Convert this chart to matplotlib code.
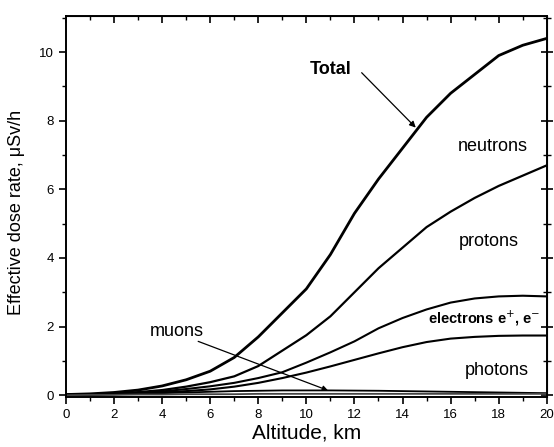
import matplotlib.pyplot as plt
from matplotlib.ticker import MultipleLocator

plt.rcParams['font.family'] = ['Liberation Sans', 'DejaVu Sans']

# altitude grid, km
alt = [0, 1, 2, 3, 4, 5, 6, 7, 8, 9, 10, 11, 12, 13, 14, 15, 16, 17, 18, 19, 20]

# effective dose rate, uSv/h
total = [0.02, 0.04, 0.08, 0.15, 0.27, 0.45, 0.70, 1.10, 1.70, 2.40, 3.10,
         4.10, 5.30, 6.30, 7.20, 8.10, 8.80, 9.35, 9.90, 10.20, 10.40]
neutrons = [0.01, 0.02, 0.05, 0.09, 0.15, 0.25, 0.38, 0.55, 0.85, 1.30, 1.75,
            2.30, 3.00, 3.70, 4.30, 4.90, 5.35, 5.75, 6.10, 6.40, 6.70]
protons = [0.01, 0.02, 0.04, 0.07, 0.11, 0.18, 0.26, 0.36, 0.50, 0.67, 0.95,
           1.25, 1.57, 1.95, 2.25, 2.50, 2.70, 2.82, 2.88, 2.90, 2.88]
electrons = [0.01, 0.02, 0.03, 0.05, 0.08, 0.12, 0.17, 0.25, 0.36, 0.50, 0.66,
             0.84, 1.03, 1.22, 1.40, 1.55, 1.65, 1.70, 1.73, 1.74, 1.74]
muons = [0.01, 0.02, 0.03, 0.05, 0.06, 0.08, 0.10, 0.12, 0.13, 0.14, 0.14,
         0.14, 0.135, 0.13, 0.12, 0.11, 0.10, 0.09, 0.08, 0.07, 0.06]
photons_low = [0.0, 0.01, 0.01, 0.02, 0.02, 0.03, 0.03, 0.03, 0.04, 0.04, 0.04,
               0.04, 0.04, 0.04, 0.04, 0.04, 0.04, 0.04, 0.04, 0.04, 0.04]

fig = plt.figure(figsize=(5.54, 4.47), dpi=100)
ax = fig.add_axes([0.119, 0.112, 0.868, 0.852])

ax.plot(alt, total, color='black', lw=2.0)
ax.plot(alt, neutrons, color='black', lw=1.6)
ax.plot(alt, protons, color='black', lw=1.5)
ax.plot(alt, electrons, color='black', lw=1.5)
ax.plot(alt, muons, color='black', lw=1.3)
ax.plot(alt, photons_low, color='#444444', lw=1.3)

ax.set_xlim(0, 20)
ax.set_ylim(-0.05, 11.05)

ax.xaxis.set_major_locator(MultipleLocator(2))
ax.xaxis.set_minor_locator(MultipleLocator(1))
ax.yaxis.set_major_locator(MultipleLocator(2))
ax.yaxis.set_minor_locator(MultipleLocator(1))
ax.tick_params(which='major', direction='out', length=5, width=1.2, labelsize=9.5)
ax.tick_params(which='minor', direction='out', length=3, width=1.0)

for s in ax.spines.values():
    s.set_linewidth(1.4)

# mirrored ticks on the top and right edges
top = ax.secondary_xaxis('top')
top.xaxis.set_major_locator(MultipleLocator(2))
top.xaxis.set_minor_locator(MultipleLocator(1))
top.tick_params(which='major', direction='in', length=5, width=1.2, labeltop=False)
top.tick_params(which='minor', direction='in', length=3, width=1.0)
right = ax.secondary_yaxis('right')
right.yaxis.set_major_locator(MultipleLocator(2))
right.yaxis.set_minor_locator(MultipleLocator(1))
right.tick_params(which='major', direction='inout', length=8, width=1.2, labelright=False)
right.tick_params(which='minor', direction='inout', length=6, width=1.0)

ax.set_xlabel('Altitude, km', fontsize=15, labelpad=2)
ax.set_ylabel('Effective dose rate, μSv/h', fontsize=13, labelpad=5)
ax.yaxis.set_label_coords(-0.085, 0.485)

# labels and pointer arrows
ax.text(11.0, 9.48, 'Total', fontsize=13, fontweight='bold',
        ha='center', va='center')
ax.annotate('', xy=(14.55, 7.8), xytext=(12.3, 9.4),
            arrowprops=dict(arrowstyle='-|>', color='black', lw=0.9,
                            shrinkA=0, shrinkB=0, mutation_scale=9))
ax.text(17.75, 7.25, 'neutrons', fontsize=13, ha='center', va='center')
ax.text(17.6, 4.49, 'protons', fontsize=13, ha='center', va='center')
ax.text(17.4, 2.23, 'electrons e$^{+}$, e$^{-}$', fontsize=10.5,
        fontweight='bold', ha='center', va='center')
ax.text(17.9, 0.72, 'photons', fontsize=13, ha='center', va='center')
ax.text(4.6, 1.85, 'muons', fontsize=13, ha='center', va='center')
ax.annotate('', xy=(10.9, 0.14), xytext=(5.5, 1.57),
            arrowprops=dict(arrowstyle='-|>', color='black', lw=0.9,
                            shrinkA=0, shrinkB=0, mutation_scale=8))

fig.savefig('out.png', dpi=100)
